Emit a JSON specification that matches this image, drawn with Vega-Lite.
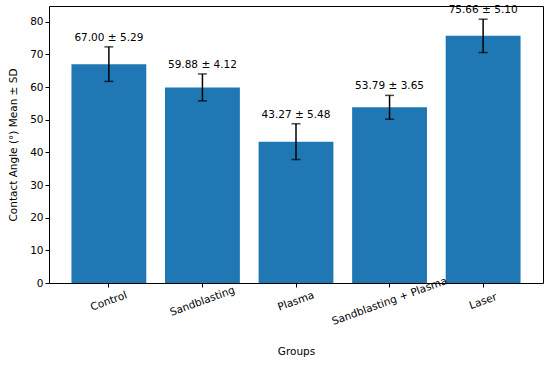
{
  "$schema": "https://vega.github.io/schema/vega-lite/v6.json",
  "autosize": {"type": "none"},
  "padding": {"left": 49, "top": 6, "right": 7, "bottom": 82},
  "width": 494,
  "height": 277,
  "config": {
    "font": "DejaVu Sans",
    "view": {"stroke": "#000000", "strokeWidth": 1},
    "axis": {"grid": false, "domain": false, "tickColor": "#000000", "tickSize": 4, "labelColor": "#000000", "titleColor": "#000000", "labelFont": "DejaVu Sans", "titleFont": "DejaVu Sans", "labelFontSize": 10.5, "titleFontSize": 10.5, "titleFontWeight": "normal"},
    "axisY": {"values": [0, 10, 20, 30, 40, 50, 60, 70, 80]}
  },
  "data": {
    "values": [
      {"group": "Control", "mean": 67.00, "sd": 5.29, "lo": 61.71, "hi": 72.29, "label": "67.00 ± 5.29"},
      {"group": "Sandblasting", "mean": 59.88, "sd": 4.12, "lo": 55.76, "hi": 64.00, "label": "59.88 ± 4.12"},
      {"group": "Plasma", "mean": 43.27, "sd": 5.48, "lo": 37.79, "hi": 48.75, "label": "43.27 ± 5.48"},
      {"group": "Sandblasting + Plasma", "mean": 53.79, "sd": 3.65, "lo": 50.14, "hi": 57.44, "label": "53.79 ± 3.65"},
      {"group": "Laser", "mean": 75.66, "sd": 5.10, "lo": 70.56, "hi": 80.76, "label": "75.66 ± 5.10"}
    ]
  },
  "encoding": {
    "x": {
      "field": "group", "type": "nominal", "sort": null,
      "scale": {"paddingInner": 0.2, "paddingOuter": 0.24},
      "axis": {
        "title": "Groups", "labelAngle": -20, "labelAlign": "center", "labelBaseline": "middle",
        "labelPadding": 14, "labelOverlap": false,
        "titleY": 63, "titleBaseline": "top", "zindex": 1
      }
    }
  },
  "layer": [
    {
      "mark": {"type": "bar", "color": "#1f77b4"},
      "encoding": {
        "y": {"field": "mean", "type": "quantitative", "scale": {"domain": [0, 84.8], "nice": false},
          "axis": {"title": "Contact Angle (°) Mean ± SD", "titlePadding": 11}}
      }
    },
    {
      "mark": {"type": "rule", "color": "#000000", "strokeWidth": 1.5},
      "encoding": {
        "y": {"field": "lo", "type": "quantitative"},
        "y2": {"field": "hi"}
      }
    },
    {
      "mark": {"type": "tick", "color": "#000000", "thickness": 1.5, "size": 9, "orient": "horizontal"},
      "encoding": {"y": {"field": "lo", "type": "quantitative"}}
    },
    {
      "mark": {"type": "tick", "color": "#000000", "thickness": 1.5, "size": 9, "orient": "horizontal"},
      "encoding": {"y": {"field": "hi", "type": "quantitative"}}
    },
    {
      "mark": {"type": "text", "baseline": "bottom", "dy": -4, "fontSize": 10.5, "color": "#000000"},
      "encoding": {
        "y": {"field": "hi", "type": "quantitative"},
        "text": {"field": "label"}
      }
    }
  ]
}
